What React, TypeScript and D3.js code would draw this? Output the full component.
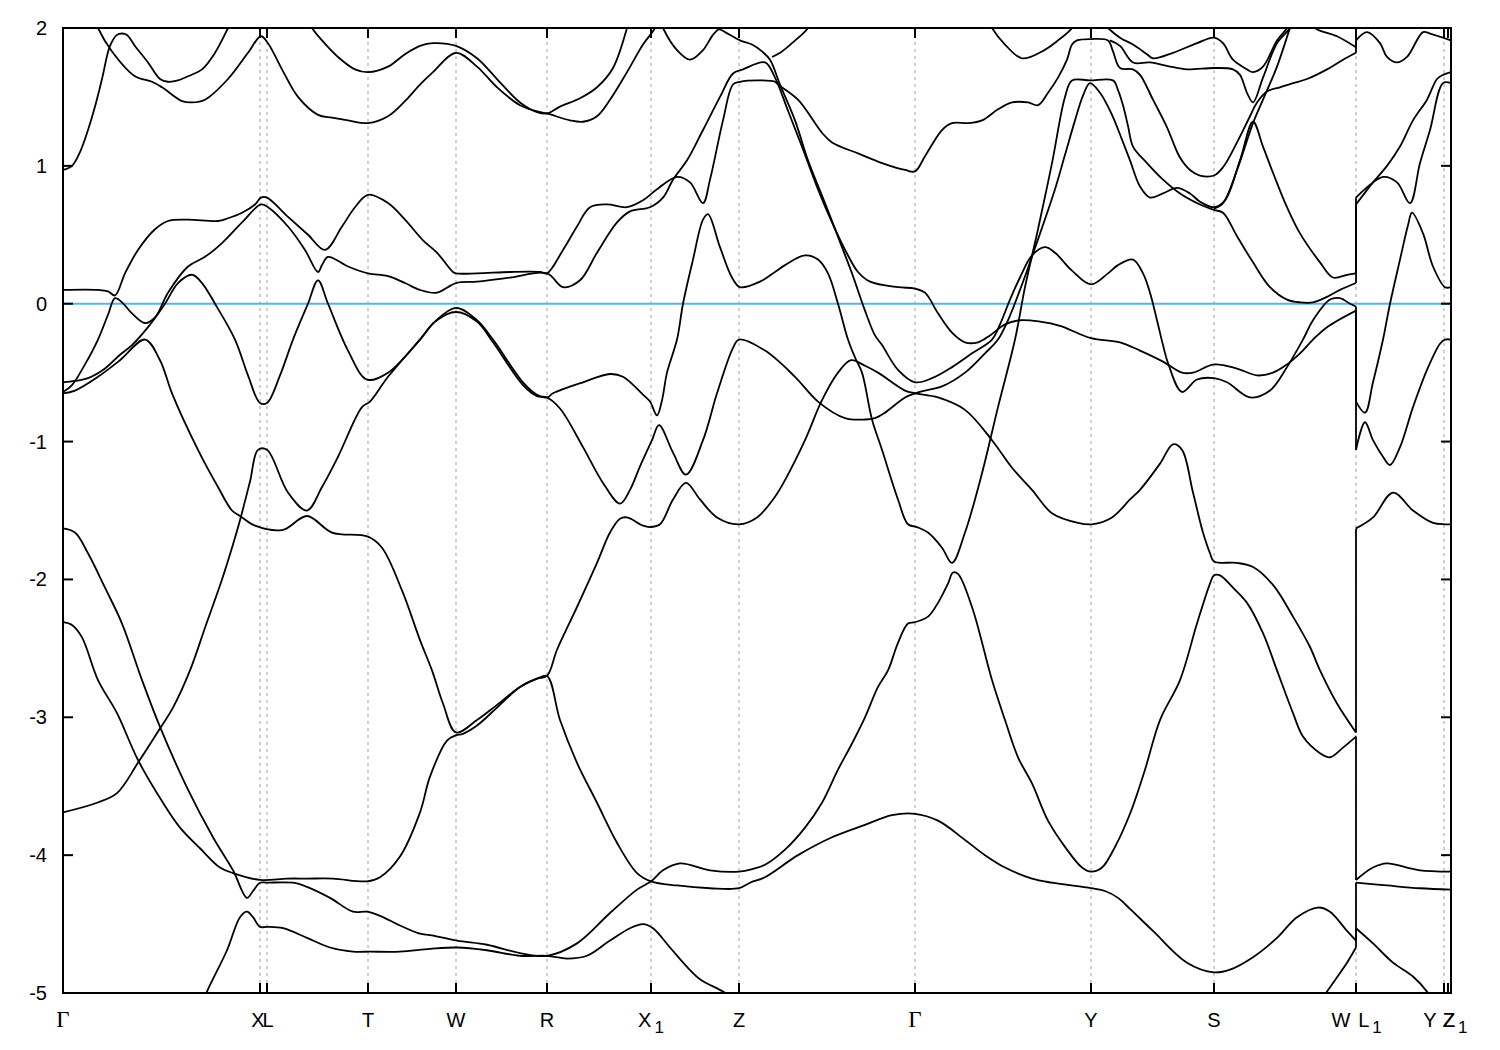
import React, { useEffect, useRef } from "react";
import * as d3 from "d3";

// k-path positions of the high-symmetry points (arbitrary path units)
const kPoints = [0, 197, 204, 305, 393, 484, 588, 676, 852, 1028, 1151, 1293, 1293, 1381, 1385, 1388];
const kLabels = ["Γ", "X", "L", "T", "W", "R", "X_1", "Z", "Γ", "Y", "S", "W", "L_1", "Y", "Z", "Z_1"];
const energyTicks = [-5, -4, -3, -2, -1, 0, 1, 2];

// bands as [k, E(eV)] ; a repeated k means the W|L1 jump
const band01 = [[0,0.97],[9,1.00],[17,1.10],[25,1.26],[32,1.43],[39,1.63],[47,1.87],[54,1.95],[59,1.96],[64,1.95],[72,1.87],[85,1.75],[97,1.63],[105,1.61],[115,1.62],[125,1.65],[139,1.70],[152,1.82],[165,2.00],[169,2.06]];
const band02 = [[32,2.06],[35,2.00],[49,1.83],[72,1.65],[89,1.61],[99,1.57],[119,1.47],[129,1.46],[142,1.48],[165,1.63],[185,1.82],[198,1.94],[205,1.89],[219,1.70],[235,1.50],[255,1.37],[269,1.35],[285,1.33],[305,1.31],[325,1.36],[342,1.47],[357,1.59],[370,1.68],[393,1.82],[414,1.72],[434,1.57],[457,1.44],[477,1.39],[484,1.38],[507,1.33],[520,1.32],[534,1.36],[547,1.48],[564,1.68],[580,1.88],[592,2.00],[595,2.06]];
const band03 = [[245,2.06],[249,2.00],[259,1.91],[275,1.79],[292,1.70],[305,1.68],[325,1.72],[342,1.81],[357,1.87],[370,1.89],[393,1.87],[414,1.78],[434,1.63],[457,1.46],[474,1.39],[484,1.38],[497,1.43],[517,1.49],[534,1.57],[550,1.71],[564,2.00],[566,2.06]];
const band04 = [[597,2.06],[600,2.00],[614,1.84],[627,1.77],[640,1.84],[650,1.95],[656,1.99],[662,1.97],[677,1.91],[689,1.88],[699,1.83],[707,1.77],[717,1.59],[732,1.33],[745,1.04],[762,0.73],[779,0.41],[789,0.22],[802,-0.05],[812,-0.23],[819,-0.30],[835,-0.48],[852,-0.57],[869,-0.54],[889,-0.46],[909,-0.36],[929,-0.26],[937,-0.15],[947,0.03],[957,0.19],[969,0.35],[982,0.41],[992,0.37],[1009,0.24],[1028,0.14],[1045,0.22],[1055,0.28],[1070,0.32],[1080,0.22],[1087,0.08],[1094,-0.12],[1100,-0.30],[1105,-0.43],[1119,-0.64],[1134,-0.55],[1151,-0.54],[1164,-0.57],[1187,-0.68],[1207,-0.63],[1224,-0.46],[1240,-0.26],[1250,-0.12],[1267,0.03],[1277,0.04],[1287,0.00],[1293,-0.02],[1293,-0.71],[1302,-0.79],[1310,-0.57],[1320,-0.26],[1327,0.00],[1337,0.32],[1345,0.57],[1349,0.66],[1360,0.51],[1370,0.27],[1382,0.12],[1388,0.12]];
const band05 = [[709,1.79],[719,1.83],[729,1.89],[745,2.00],[748,2.06]];
const band06 = [[0,0.10],[35,0.10],[45,0.09],[52,0.06],[62,0.22],[75,0.39],[92,0.54],[105,0.60],[125,0.61],[155,0.60],[165,0.62],[179,0.66],[192,0.72],[198,0.77],[204,0.77],[225,0.63],[245,0.50],[262,0.39],[279,0.56],[292,0.70],[305,0.79],[325,0.73],[342,0.61],[360,0.46],[374,0.37],[390,0.23],[393,0.22],[414,0.22],[447,0.23],[477,0.23],[484,0.22],[500,0.39],[514,0.56],[527,0.70],[544,0.72],[564,0.70],[580,0.75],[594,0.83],[614,0.92],[627,0.88],[640,0.73],[647,0.90],[660,1.33],[670,1.59],[677,1.61],[697,1.62],[712,1.61],[715,1.59],[735,1.48],[759,1.24],[769,1.17],[795,1.09],[819,1.02],[842,0.97],[852,0.96],[862,1.07],[879,1.26],[889,1.31],[905,1.31],[919,1.33],[935,1.41],[949,1.46],[965,1.46],[975,1.44],[985,1.53],[995,1.64],[1004,1.77],[1009,1.88],[1014,1.91],[1028,1.92],[1045,1.91],[1050,1.83],[1057,1.71],[1070,1.70],[1077,1.66],[1090,1.48],[1104,1.28],[1117,1.06],[1127,0.97],[1137,0.93],[1151,0.93],[1160,0.99],[1174,1.17],[1187,1.36],[1194,1.46],[1204,1.54],[1217,1.57],[1230,1.60],[1244,1.63],[1264,1.70],[1280,1.77],[1293,1.82],[1293,1.91],[1304,1.97],[1317,1.89],[1324,1.79],[1334,1.75],[1344,1.79],[1360,1.97],[1367,1.96],[1380,1.93],[1388,1.91]];
const band07 = [[0,-0.64],[9,-0.59],[22,-0.44],[35,-0.26],[45,-0.08],[52,0.04],[59,0.01],[69,-0.07],[82,-0.14],[92,-0.10],[105,0.08],[125,0.27],[142,0.34],[159,0.44],[179,0.59],[198,0.72],[205,0.70],[225,0.56],[242,0.39],[255,0.23],[259,0.28],[265,0.34],[285,0.27],[305,0.22],[325,0.20],[342,0.15],[357,0.10],[374,0.08],[393,0.15],[414,0.16],[447,0.19],[484,0.22],[500,0.12],[517,0.17],[534,0.37],[554,0.59],[567,0.67],[587,0.70],[600,0.77],[610,0.90],[624,1.04],[640,1.26],[657,1.50],[670,1.67],[680,1.70],[702,1.75],[712,1.64],[725,1.40],[739,1.14],[755,0.83],[769,0.59],[785,0.35],[795,0.23],[807,0.16],[835,0.12],[852,0.11],[862,0.08],[875,-0.07],[889,-0.21],[902,-0.28],[915,-0.28],[927,-0.23],[942,-0.15],[957,-0.12],[977,-0.13],[997,-0.16],[1028,-0.25],[1057,-0.28],[1077,-0.34],[1100,-0.42],[1119,-0.50],[1130,-0.50],[1151,-0.44],[1174,-0.47],[1194,-0.52],[1210,-0.50],[1224,-0.44],[1237,-0.36],[1250,-0.26],[1264,-0.17],[1293,-0.05],[1293,-1.06],[1302,-0.86],[1310,-0.99],[1320,-1.11],[1327,-1.17],[1337,-1.04],[1350,-0.75],[1364,-0.48],[1377,-0.29],[1382,-0.26],[1388,-0.26]];
const band08 = [[0,-0.57],[12,-0.56],[25,-0.54],[42,-0.47],[57,-0.37],[69,-0.30],[85,-0.17],[102,0.00],[115,0.15],[129,0.21],[139,0.15],[152,0.00],[172,-0.26],[185,-0.52],[197,-0.72],[204,-0.72],[217,-0.52],[230,-0.26],[245,0.00],[255,0.17],[265,0.00],[285,-0.34],[304,-0.55],[325,-0.50],[357,-0.26],[372,-0.13],[393,-0.03],[414,-0.12],[430,-0.26],[460,-0.57],[474,-0.66],[484,-0.68],[490,-0.65],[520,-0.57],[547,-0.51],[560,-0.53],[580,-0.66],[587,-0.71],[594,-0.81],[599,-0.70],[604,-0.50],[614,-0.26],[620,0.00],[630,0.32],[640,0.61],[645,0.65],[657,0.41],[669,0.19],[677,0.12],[697,0.16],[712,0.23],[722,0.28],[742,0.35],[755,0.32],[765,0.22],[775,0.00],[785,-0.26],[792,-0.39],[799,-0.50],[809,-0.84],[819,-1.06],[835,-1.42],[845,-1.60],[854,-1.62],[865,-1.66],[879,-1.77],[889,-1.88],[902,-1.66],[919,-1.23],[935,-0.75],[952,-0.26],[962,0.12],[975,0.54],[989,1.02],[1002,1.50],[1009,1.62],[1027,1.62],[1050,1.62],[1055,1.55],[1060,1.44],[1065,1.29],[1070,1.14],[1084,1.02],[1100,0.90],[1117,0.80],[1137,0.72],[1151,0.68],[1160,0.66],[1174,0.49],[1190,0.30],[1207,0.12],[1224,0.03],[1237,0.01],[1250,0.01],[1264,0.05],[1277,0.10],[1293,0.15],[1293,0.72],[1310,0.88],[1324,1.00],[1337,1.14],[1350,1.33],[1364,1.48],[1374,1.63],[1380,1.66],[1388,1.68]];
const band09 = [[0,-3.69],[34,-3.62],[54,-3.55],[75,-3.33],[98,-3.07],[110,-2.93],[127,-2.66],[142,-2.35],[159,-2.00],[169,-1.77],[177,-1.57],[187,-1.29],[195,-1.06],[204,-1.06],[225,-1.37],[244,-1.50],[259,-1.33],[275,-1.11],[299,-0.75],[307,-0.71],[325,-0.53],[357,-0.26],[372,-0.13],[393,-0.06],[414,-0.13],[430,-0.28],[460,-0.59],[474,-0.67],[484,-0.68],[497,-0.76],[520,-1.04],[540,-1.30],[557,-1.45],[567,-1.35],[577,-1.18],[589,-0.99],[596,-0.88],[610,-1.08],[623,-1.24],[640,-0.99],[654,-0.65],[670,-0.32],[676,-0.26],[702,-0.34],[732,-0.53],[755,-0.71],[782,-0.83],[802,-0.84],[812,-0.83],[822,-0.79],[842,-0.68],[852,-0.65],[862,-0.63],[879,-0.60],[902,-0.50],[922,-0.36],[935,-0.26],[945,-0.12],[957,0.10],[967,0.30],[979,0.55],[992,0.83],[1002,1.08],[1012,1.33],[1020,1.51],[1027,1.60],[1037,1.53],[1049,1.37],[1059,1.19],[1067,1.04],[1077,0.85],[1087,0.77],[1100,0.80],[1114,0.84],[1127,0.80],[1137,0.74],[1151,0.70],[1162,0.75],[1177,1.04],[1190,1.32],[1200,1.14],[1210,0.95],[1224,0.70],[1237,0.51],[1257,0.30],[1270,0.19],[1284,0.21],[1293,0.22],[1293,0.77],[1320,0.92],[1334,0.88],[1347,0.73],[1357,1.02],[1367,1.26],[1380,1.60],[1388,1.60]];
const band10 = [[0,-0.65],[12,-0.63],[35,-0.53],[57,-0.41],[82,-0.26],[97,-0.41],[109,-0.65],[135,-1.06],[155,-1.33],[169,-1.50],[177,-1.54],[192,-1.61],[220,-1.64],[244,-1.54],[269,-1.66],[305,-1.69],[319,-1.77],[339,-2.08],[357,-2.44],[369,-2.66],[380,-2.90],[393,-3.11],[414,-3.02],[434,-2.91],[457,-2.78],[474,-2.72],[484,-2.70],[494,-2.51],[514,-2.20],[534,-1.88],[547,-1.66],[557,-1.56],[564,-1.55],[580,-1.61],[587,-1.62],[597,-1.60],[610,-1.42],[623,-1.30],[637,-1.42],[654,-1.55],[676,-1.60],[694,-1.55],[712,-1.40],[722,-1.28],[742,-0.99],[759,-0.70],[775,-0.50],[788,-0.41],[802,-0.45],[815,-0.50],[842,-0.63],[852,-0.65],[875,-0.68],[902,-0.77],[929,-0.99],[949,-1.19],[969,-1.35],[989,-1.52],[1015,-1.59],[1029,-1.60],[1049,-1.55],[1067,-1.42],[1077,-1.35],[1097,-1.16],[1110,-1.02],[1119,-1.06],[1130,-1.37],[1140,-1.66],[1147,-1.81],[1151,-1.87],[1174,-1.88],[1190,-1.91],[1210,-2.04],[1230,-2.27],[1247,-2.49],[1257,-2.66],[1274,-2.90],[1293,-3.11],[1293,-1.63],[1310,-1.55],[1330,-1.37],[1350,-1.50],[1370,-1.59],[1382,-1.60],[1388,-1.60]];
const band11 = [[0,-1.63],[12,-1.66],[25,-1.81],[42,-2.06],[59,-2.32],[79,-2.73],[97,-3.07],[124,-3.51],[150,-3.87],[170,-4.11],[184,-4.31],[190,-4.26],[197,-4.20],[204,-4.20],[230,-4.20],[244,-4.23],[267,-4.31],[290,-4.41],[304,-4.41],[317,-4.44],[337,-4.51],[357,-4.57],[367,-4.58],[394,-4.62],[424,-4.65],[457,-4.71],[484,-4.73],[514,-4.64],[547,-4.42],[574,-4.25],[588,-4.19],[600,-4.11],[617,-4.06],[647,-4.11],[676,-4.12],[690,-4.10],[702,-4.07],[722,-3.96],[742,-3.80],[759,-3.62],[775,-3.38],[789,-3.19],[802,-3.00],[815,-2.78],[825,-2.66],[835,-2.46],[845,-2.32],[852,-2.31],[865,-2.27],[875,-2.17],[885,-2.03],[890,-1.95],[895,-1.96],[909,-2.20],[929,-2.73],[942,-3.02],[955,-3.29],[969,-3.48],[985,-3.75],[1002,-3.94],[1019,-4.09],[1028,-4.12],[1039,-4.09],[1052,-3.94],[1067,-3.70],[1082,-3.38],[1097,-3.02],[1117,-2.73],[1134,-2.32],[1147,-2.03],[1151,-1.97],[1157,-1.97],[1170,-2.06],[1184,-2.17],[1200,-2.39],[1214,-2.66],[1230,-2.97],[1240,-3.14],[1257,-3.26],[1267,-3.29],[1280,-3.22],[1293,-3.14],[1293,-4.18],[1310,-4.09],[1324,-4.06],[1344,-4.09],[1357,-4.11],[1388,-4.12]];
const band12 = [[0,-2.31],[9,-2.33],[19,-2.42],[35,-2.73],[54,-2.97],[75,-3.31],[100,-3.62],[117,-3.80],[137,-3.95],[157,-4.09],[170,-4.13],[197,-4.18],[224,-4.17],[244,-4.17],[270,-4.17],[304,-4.19],[317,-4.16],[337,-4.01],[357,-3.69],[367,-3.43],[384,-3.17],[393,-3.13],[400,-3.12],[414,-3.06],[434,-2.93],[457,-2.78],[474,-2.72],[484,-2.70],[497,-3.02],[514,-3.33],[534,-3.62],[554,-3.91],[574,-4.13],[588,-4.19],[614,-4.22],[647,-4.24],[676,-4.24],[687,-4.20],[702,-4.16],[735,-4.00],[769,-3.87],[802,-3.78],[829,-3.71],[852,-3.70],[875,-3.75],[902,-3.89],[922,-4.00],[942,-4.09],[969,-4.17],[989,-4.20],[1028,-4.24],[1042,-4.26],[1055,-4.31],[1067,-4.39],[1090,-4.55],[1124,-4.78],[1151,-4.85],[1167,-4.83],[1190,-4.74],[1214,-4.60],[1234,-4.45],[1255,-4.38],[1267,-4.41],[1284,-4.55],[1293,-4.62],[1293,-4.20],[1324,-4.22],[1357,-4.24],[1388,-4.25]];
const band13 = [[140,-5.07],[144,-4.99],[164,-4.69],[177,-4.45],[184,-4.41],[190,-4.45],[197,-4.52],[204,-4.52],[220,-4.53],[244,-4.60],[267,-4.67],[290,-4.70],[307,-4.70],[337,-4.70],[367,-4.68],[394,-4.67],[424,-4.69],[457,-4.73],[484,-4.73],[504,-4.75],[524,-4.73],[547,-4.62],[567,-4.53],[580,-4.50],[590,-4.53],[607,-4.67],[624,-4.81],[637,-4.90],[660,-4.99],[672,-5.05]];
const band14 = [[1257,-5.07],[1264,-4.99],[1284,-4.78],[1293,-4.67],[1293,-4.53],[1310,-4.64],[1330,-4.78],[1350,-4.88],[1364,-4.99],[1369,-5.05]];
const band15 = [[1037,2.06],[1045,2.00],[1057,1.93],[1070,1.88],[1084,1.81],[1090,1.78],[1110,1.82],[1134,1.89],[1151,1.93],[1160,1.89],[1170,1.77],[1184,1.70],[1190,1.68],[1200,1.72],[1214,1.91],[1224,2.00],[1227,2.06]];
const band16 = [[1047,1.91],[1057,1.87],[1070,1.75],[1087,1.75],[1107,1.72],[1124,1.70],[1151,1.71],[1170,1.70],[1177,1.66],[1184,1.53],[1190,1.46],[1200,1.64],[1214,1.89],[1227,2.00],[1230,2.06]];
const band17 = [[1151,0.69],[1160,0.73],[1174,0.97],[1190,1.31],[1200,1.48],[1214,1.72],[1227,2.00],[1230,2.06]];
const band18 = [[1247,2.06],[1252,2.00],[1274,1.94],[1293,1.86],[1293,2.06]];
const band19 = [[925,2.06],[929,2.00],[942,1.88],[959,1.78],[979,1.83],[995,1.91],[1009,2.00],[1012,2.06]];

const bands = [band01, band02, band03, band04, band05, band06, band07, band08, band09, band10,
  band11, band12, band13, band14, band15, band16, band17, band18, band19];

const W = 1500;
const H = 1050;
const margin = { left: 63, right: 49, top: 28, bottom: 57 };

const BandStructure: React.FC = () => {
  const svgRef = useRef<SVGSVGElement>(null);

  useEffect(() => {
    const svg = d3.select(svgRef.current);
    svg.selectAll("*").remove();

    const x = d3.scaleLinear().domain([0, 1388]).range([margin.left, W - margin.right]);
    const y = d3.scaleLinear().domain([-5, 2]).range([H - margin.bottom, margin.top]);
    const x0 = x.range()[0], x1 = x.range()[1];
    const yTop = y.range()[1], yBot = y.range()[0];

    svg.append("clipPath").attr("id", "plotClip")
      .append("rect").attr("x", x0).attr("y", yTop).attr("width", x1 - x0).attr("height", yBot - yTop);

    // dashed verticals at high-symmetry points
    const uniqK = Array.from(new Set(kPoints)).filter((k) => k > 0 && k < 1388 && k !== 1385);
    svg.append("g").selectAll("line").data(uniqK).join("line")
      .attr("x1", (d) => x(d)).attr("x2", (d) => x(d))
      .attr("y1", yTop).attr("y2", yBot)
      .attr("stroke", "#a0a0a0").attr("stroke-width", 1).attr("stroke-dasharray", "3,4");

    // Fermi level
    svg.append("line")
      .attr("x1", x0).attr("x2", x1).attr("y1", y(0)).attr("y2", y(0))
      .attr("stroke", "#56b4e9").attr("stroke-width", 2);

    const line = d3.line<number[]>()
      .x((d) => x(d[0]))
      .y((d) => y(d[1]))
      .curve(d3.curveCatmullRom.alpha(0.5));

    const lw = 1.8;
    const g = svg.append("g").attr("clip-path", "url(#plotClip)");
    bands.forEach((pts) => {
      let cur: number[][] = [pts[0]];
      for (let i = 1; i < pts.length; i++) {
        if (pts[i][0] === pts[i - 1][0]) {
          g.append("path").datum(cur).attr("d", line).attr("fill", "none").attr("stroke", "#000").attr("stroke-width", lw);
          g.append("line")
            .attr("x1", x(pts[i][0])).attr("x2", x(pts[i][0]))
            .attr("y1", y(pts[i - 1][1])).attr("y2", y(pts[i][1]))
            .attr("stroke", "#000").attr("stroke-width", lw);
          cur = [pts[i]];
        } else {
          cur.push(pts[i]);
        }
      }
      g.append("path").datum(cur).attr("d", line).attr("fill", "none").attr("stroke", "#000").attr("stroke-width", lw);
    });

    // frame
    svg.append("rect")
      .attr("x", x0).attr("y", yTop).attr("width", x1 - x0).attr("height", yBot - yTop)
      .attr("fill", "none").attr("stroke", "#000").attr("stroke-width", 2);

    // energy ticks, left and right
    energyTicks.forEach((e) => {
      svg.append("line").attr("x1", x0).attr("x2", x0 + 10).attr("y1", y(e)).attr("y2", y(e))
        .attr("stroke", "#000").attr("stroke-width", 2);
      svg.append("line").attr("x1", x1 - 10).attr("x2", x1).attr("y1", y(e)).attr("y2", y(e))
        .attr("stroke", "#000").attr("stroke-width", 2);
      svg.append("text")
        .attr("x", x0 - 16).attr("y", y(e))
        .attr("text-anchor", "end").attr("dominant-baseline", "central")
        .style("font-family", "'Liberation Sans', Arial, sans-serif").style("font-size", "20px")
        .text(String(e));
    });

    // k ticks, bottom and top
    kPoints.forEach((k) => {
      svg.append("line").attr("x1", x(k)).attr("x2", x(k)).attr("y1", yBot).attr("y2", yBot - 10)
        .attr("stroke", "#000").attr("stroke-width", 2);
      svg.append("line").attr("x1", x(k)).attr("x2", x(k)).attr("y1", yTop).attr("y2", yTop + 10)
        .attr("stroke", "#000").attr("stroke-width", 2);
    });

    // label placement tweaks for crowded points
    const labelX = (k: number, i: number) => {
      if (kLabels[i] === "W" && k === 1293) return x(k) - 15;
      if (kLabels[i] === "L_1") return x(k) + 14;
      if (i === 1) return x(k) - 2;
      if (i === 2) return x(k) + 1;
      if (i === 13) return x(k) - 14;
      if (i === 14) return x(k) + 1;
      if (i === 15) return x(k) + 4;
      return x(k);
    };

    kPoints.forEach((k, i) => {
      const lab = kLabels[i];
      const t = svg.append("text")
        .attr("x", labelX(k, i)).attr("y", 1027)
        .attr("text-anchor", "middle");
      if (lab === "Γ") {
        t.style("font-family", "'Liberation Serif', 'Times New Roman', serif").style("font-size", "23px").text("Γ");
      } else {
        t.style("font-family", "'Liberation Sans', Arial, sans-serif").style("font-size", "20px");
        const parts = lab.split("_");
        t.append("tspan").text(parts[0]);
        if (parts[1]) {
          t.append("tspan").attr("dx", 3).attr("dy", 6).style("font-size", "17px").text(parts[1]);
        }
      }
    });
  }, []);

  return (
    <div style={{ position: "absolute", left: 0, top: 0, background: "#fff" }}>
      <svg ref={svgRef} width={W} height={H} style={{ display: "block", background: "#fff" }}></svg>
    </div>
  );
};

export default BandStructure;
